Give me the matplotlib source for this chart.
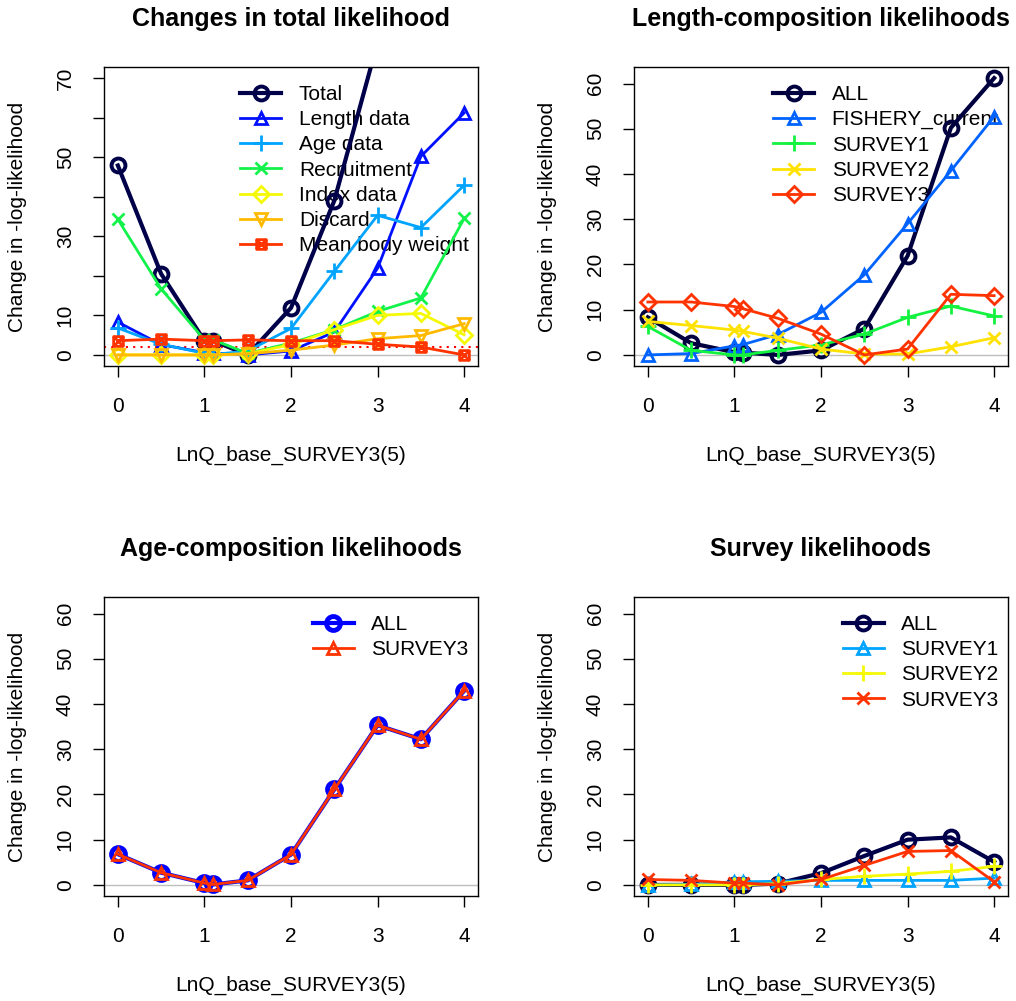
import numpy as np
import matplotlib
matplotlib.use('Agg')
import matplotlib.pyplot as plt
from matplotlib.path import Path

plt.rcParams['font.family'] = ['Liberation Sans', 'DejaVu Sans']

# profile parameter values
lnq = [0, 0.5, 1.0, 1.1, 1.5, 2, 2.5, 3, 3.5, 4]

# panel 1: changes in total likelihood
total = [47.9, 20.5, 3.6, 3.6, 0, 11.9, 39.0, 79, 112, 150]
length_data = [8.3, 2.6, 0.6, 0.5, 0, 1.0, 5.8, 21.9, 50.2, 61.2]
age_data = [6.8, 2.7, 0.4, 0.1, 1.0, 6.7, 21.1, 35.3, 32.2, 42.9]
recruitment = [34.3, 16.7, 3.8, 3.8, 0.4, 3.0, 6.4, 11.0, 14.4, 34.5]
index_data = [0, 0, 0, 0, 0.3, 2.6, 6.4, 10.0, 10.5, 5.1]
discard = [0, 0, 0, 0, 0.3, 1.2, 2.5, 4.1, 4.9, 7.9]
mean_bw = [3.6, 4.0, 3.6, 3.6, 3.8, 3.6, 3.6, 2.7, 2.0, 0]

# panel 2: length-composition likelihoods
fishery_len = [0, 0.3, 2.0, 2.3, 4.5, 9.4, 17.7, 29.0, 40.7, 52.7]
survey1_len = [6.3, 1.0, 0, 0, 1.0, 2.2, 4.6, 8.3, 10.8, 8.6]
survey2_len = [7.4, 6.5, 5.5, 5.2, 3.7, 1.3, 0.2, 0.2, 1.8, 3.8]
survey3_len = [11.7, 11.7, 10.7, 10.2, 8.1, 4.6, 0, 1.3, 13.4, 13.1]

# panel 3: age-composition likelihoods (ALL and SURVEY3 are the same)
survey3_age = age_data

# panel 4: survey likelihoods
survey_all = index_data
survey1_idx = [0, 0.1, 0.7, 0.7, 0.8, 1.0, 1.0, 1.0, 1.0, 1.5]
survey2_idx = [0, 0, 0, 0, 0.3, 1.2, 1.9, 2.4, 3.0, 4.1]
survey3_idx = [1.2, 1.0, 0.4, 0.4, 0, 1.2, 4.3, 7.4, 7.6, 0.7]

ticks_x = [0, 1, 2, 3, 4]
ticks_y1 = [0, 10, 20, 30, 40, 50, 60, 70]
labels_y1 = ['0', '10', '', '30', '', '50', '', '70']
ticks_y2 = [0, 10, 20, 30, 40, 50, 60]

# square with an x through it (R pch 7)
sqx = Path([(-1, -1), (1, -1), (1, 1), (-1, 1), (-1, -1), (-1, -1), (1, 1), (-1, 1), (1, -1)],
           [Path.MOVETO, Path.LINETO, Path.LINETO, Path.LINETO, Path.CLOSEPOLY,
            Path.MOVETO, Path.LINETO, Path.MOVETO, Path.LINETO])

FS = 15

fig = plt.figure(figsize=(10.16, 10.01), dpi=100)
W, H = 1016, 1001
boxes = [(104, 67), (634, 67), (104, 597), (634, 597)]
axes = []
for (l, t) in boxes:
    axes.append(fig.add_axes([l / W, 1 - (t + 299) / H, 374 / W, 299 / H]))


def style(ax, title, ylim, yt, ylab=None):
    ax.set_xlim(-0.16, 4.16)
    ax.set_ylim(*ylim)
    ax.set_xticks(ticks_x)
    ax.set_yticks(yt)
    if ylab is not None:
        ax.set_yticklabels(ylab)
    ax.tick_params(direction='out', length=8, width=1, labelsize=FS)
    ax.tick_params(axis='x', pad=14)
    ax.tick_params(axis='y', labelrotation=90, pad=13)
    for lb in ax.get_yticklabels():
        lb.set_va('center')
    for s in ax.spines.values():
        s.set_linewidth(1)
    ax.axhline(0, color='#BEBEBE', lw=1, zorder=1)
    ax.text(0.5, 1.16, title, transform=ax.transAxes, ha='center', va='center',
            fontsize=18, fontweight='bold')
    ax.set_xlabel('LnQ_base_SURVEY3(5)', fontsize=FS)
    ax.xaxis.set_label_coords(0.5, -0.3)
    ax.xaxis.label.set_va('center')
    ax.set_ylabel('Change in -log-likelihood', fontsize=FS)
    ax.yaxis.set_label_coords(-0.23, 0.5)
    ax.yaxis.label.set_va('center')


def series(ax, y, color, marker, label, lw=2, ms=9, mew=2):
    ax.plot(lnq, y, color=color, marker=marker, mfc='none', mec=color,
            lw=lw, ms=ms, mew=mew, label=label)


def legend(ax):
    leg = ax.legend(loc='upper right', bbox_to_anchor=(0.975, 0.94), frameon=False,
                    fontsize=FS, borderpad=0, borderaxespad=0, handlelength=1.95,
                    handletextpad=0.85, labelspacing=0.3)
    leg.set_zorder(1.5)


# panel 1
ax = axes[0]
ax.axhline(1.92, color='red', lw=1.5, ls=(0, (1, 2.5)), zorder=1)
series(ax, total, '#00004A', 'o', 'Total', lw=3, ms=10, mew=2.8)
series(ax, length_data, '#0010FF', '^', 'Length data')
series(ax, age_data, '#00A4FF', '+', 'Age data', ms=12)
series(ax, recruitment, '#13F24A', 'x', 'Recruitment', ms=9)
series(ax, index_data, '#F6F906', 'D', 'Index data', ms=8)
series(ax, discard, '#FFBA00', 'v', 'Discard')
series(ax, mean_bw, '#FF3300', sqx, 'Mean body weight', ms=7)
style(ax, 'Changes in total likelihood', (-2.8, 72.8), ticks_y1, labels_y1)
legend(ax)

# panel 2
ax = axes[1]
series(ax, length_data, '#00003F', 'o', 'ALL', lw=3, ms=10, mew=2.8)
series(ax, fishery_len, '#0063FF', '^', 'FISHERY_current')
series(ax, survey1_len, '#13F23F', '+', 'SURVEY1', ms=12)
series(ax, survey2_len, '#FFE201', 'x', 'SURVEY2', ms=9)
series(ax, survey3_len, '#FF3300', 'D', 'SURVEY3', ms=8)
style(ax, 'Length-composition likelihoods', (-2.45, 63.65), ticks_y2)
legend(ax)

# panel 3
ax = axes[2]
series(ax, age_data, '#0000FF', 'o', 'ALL', lw=3, ms=10, mew=3.5)
series(ax, survey3_age, '#FF3300', '^', 'SURVEY3')
style(ax, 'Age-composition likelihoods', (-2.45, 63.65), ticks_y2)
legend(ax)

# panel 4
ax = axes[3]
series(ax, survey_all, '#00004A', 'o', 'ALL', lw=3, ms=10, mew=2.8)
series(ax, survey1_idx, '#00A4FF', '^', 'SURVEY1')
series(ax, survey2_idx, '#F6F906', '+', 'SURVEY2', ms=12)
series(ax, survey3_idx, '#FF3300', 'x', 'SURVEY3', ms=9)
style(ax, 'Survey likelihoods', (-2.45, 63.65), ticks_y2)
legend(ax)

fig.savefig('out.png', dpi=100)
